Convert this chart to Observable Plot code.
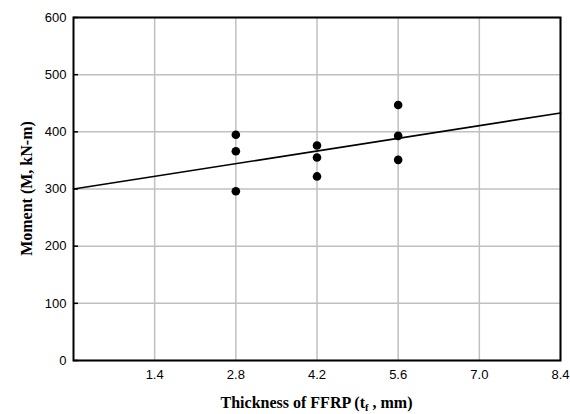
<!DOCTYPE html>
<html>
<head>
<meta charset="utf-8">
<script src="https://cdn.jsdelivr.net/npm/d3@7"></script>
<script src="https://cdn.jsdelivr.net/npm/@observablehq/plot@0.6"></script>
<style>
  html, body { margin: 0; padding: 0; background: #fff; }
  svg { display: block; }
</style>
</head>
<body>
<div id="chart"></div>
<script>
// Data
const thickness = [2.8, 2.8, 2.8, 4.2, 4.2, 4.2, 5.6, 5.6, 5.6];
const moment = [395, 366, 296, 376, 355, 322, 447, 393, 351];
const fitX = [0, 8.4];
const fitY = [300, 433];
const xTicks = [1.4, 2.8, 4.2, 5.6, 7.0, 8.4];
const yTicks = [0, 100, 200, 300, 400, 500, 600];

const points = thickness.map((x, i) => ({x, y: moment[i]}));
const fit = fitX.map((x, i) => ({x, y: fitY[i]}));

const W = 570, H = 414;
const chart = Plot.plot({
  width: W,
  height: H,
  marginLeft: 73,
  marginRight: 10,
  marginTop: 17,
  marginBottom: 54,
  style: {fontFamily: "'Liberation Sans', Arial, sans-serif", fontSize: "13px", color: "#000", background: "#fff"},
  x: {domain: [0, 8.4], label: null},
  y: {domain: [0, 600], label: null},
  marks: [
    Plot.gridX(xTicks, {stroke: "#c0c0c0", strokeOpacity: 1, strokeWidth: 1.5}),
    Plot.gridY(yTicks, {stroke: "#c0c0c0", strokeOpacity: 1, strokeWidth: 1.5}),
    Plot.axisX(xTicks, {tickSize: 0, tickPadding: 9, tickFormat: d => d.toFixed(1), fill: "#000", label: null}),
    Plot.axisY(yTicks, {tickSize: -5, tickPadding: 12, stroke: "#000", strokeWidth: 1.5, label: null}),
    Plot.frame({stroke: "#000", strokeWidth: 2}),
    Plot.line(fit, {x: "x", y: "y", stroke: "#000", strokeWidth: 1.6}),
    Plot.dot(points, {x: "x", y: "y", r: 4.3, fill: "#000", stroke: "none"})
  ]
});

const svg = d3.select(chart);
const titleFont = "'Liberation Serif', 'Times New Roman', serif";
// x-axis title with subscript
const xt = svg.append("text")
  .attr("x", (73 + (W - 10)) / 2)
  .attr("y", 408)
  .attr("text-anchor", "middle")
  .attr("font-family", titleFont)
  .attr("font-weight", "bold")
  .attr("font-size", 16)
  .attr("fill", "#000");
xt.append("tspan").text("Thickness of FFRP (t");
xt.append("tspan").attr("font-size", 10.5).attr("dy", 3).text("f");
xt.append("tspan").attr("dy", -3).text(" , mm)");
// y-axis title
svg.append("text")
  .attr("transform", `translate(32,${(17 + (H - 54)) / 2}) rotate(-90)`)
  .attr("text-anchor", "middle")
  .attr("font-family", titleFont)
  .attr("font-weight", "bold")
  .attr("font-size", 16)
  .attr("fill", "#000")
  .text("Moment (M, kN-m)");

document.getElementById("chart").appendChild(chart);
</script>
</body>
</html>
